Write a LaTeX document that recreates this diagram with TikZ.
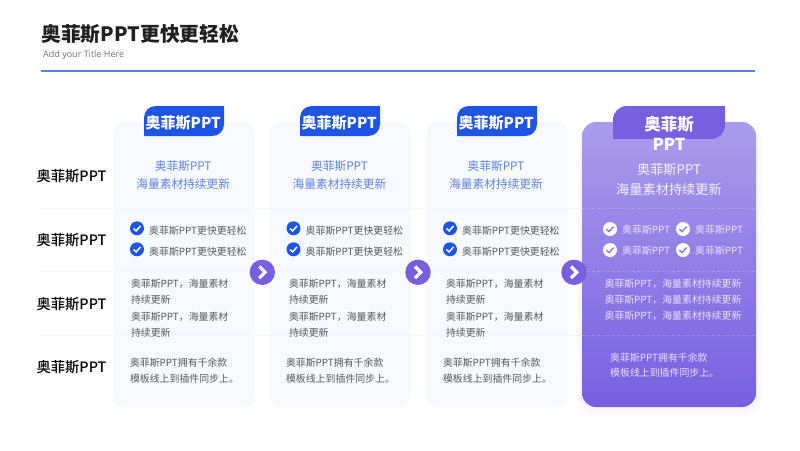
\documentclass[tikz,border=0pt]{standalone}
\usepackage{fontspec}
\setmainfont{Noto Sans CJK SC}
\newfontfamily\latinfont{Open Sans}
\newfontfamily\mediumfont{Noto Sans CJK SC Medium}
\definecolor{cardbg}{HTML}{F6F8FE}
\definecolor{tabblue}{HTML}{1F55E6}
\definecolor{tabviolet}{HTML}{7660E0}
\definecolor{headblue}{HTML}{5F84E2}
\definecolor{ruleblue}{HTML}{5B80E8}
\definecolor{rowline}{HTML}{F3F4F9}
\definecolor{bodygrey}{HTML}{5A5A5A}
\definecolor{softwhite}{HTML}{E6E0FB}
\tikzset{
  rowlabel/.style={anchor=center,font=\fontsize{14.3}{16}\mediumfont,text=black,inner sep=0pt},
  tabtext/.style={anchor=center,font=\fontsize{15}{18}\selectfont\bfseries,text=white,inner sep=0pt},
  headtext/.style={anchor=center,align=center,font=\fontsize{11.7}{17.8}\selectfont,text=headblue,inner sep=0pt},
  bodytext/.style={anchor=west,align=left,font=\fontsize{9.9}{16.3}\selectfont,text=bodygrey,inner sep=0pt},
  softtext/.style={anchor=west,align=left,font=\fontsize{9.9}{16.3}\selectfont,text=softwhite,inner sep=0pt},
}
\begin{document}
\begin{tikzpicture}[x=1pt,y=-1pt]
  \useasboundingbox (0,0) rectangle (800,450);
  % title
  \fill[ruleblue] (41,70.4) rectangle (755,71.8);
  \node[anchor=west,inner sep=0pt,font=\fontsize{19.8}{24}\selectfont\bfseries,text=black!88] (title) at (41,34) {奥菲斯PPT更快更轻松};
  \node[anchor=west,inner sep=0pt,font=\latinfont\fontsize{9}{11}\selectfont,text=black!55] (subtitle) at (43,55) {Add your Title Here};
  % row lines
  \foreach \y in {208.5,271,335}
    \fill[rowline] (40,\y-0.4) rectangle (582,\y+0.4);
  % cards
  \foreach \x in {113,269,426}
    \fill[cardbg,opacity=0.9,rounded corners=11pt] (\x,122) rectangle ++(142,285);
  \foreach \d in {1,2,3,4,5,6}
    \fill[tabviolet,opacity=0.012,rounded corners=14pt] (582-\d,126) rectangle (756+\d,407+1.6*\d);
  \shade[top color=tabviolet!62,bottom color=tabviolet,rounded corners=14pt] (582,122) rectangle (756,407);
  \foreach \y in {208.5,271,335}
    \draw[white,opacity=0.2,line width=0.5pt,densely dashed] (582,\y) -- (756,\y);
  % tabs
  \foreach \x in {144,300,457}
    \fill[tabblue] (\x,136) -- (\x,118) .. controls (\x,111) and (\x+5,106) .. (\x+12,106) -- (\x+80,106) -- (\x+80,124) .. controls (\x+80,131) and (\x+75,136) .. (\x+68,136) -- cycle;
  \fill[tabviolet] (613,139) -- (613,120) .. controls (613,112) and (619,106) .. (627,106) -- (725,106) -- (725,125) .. controls (725,133) and (719,139) .. (711,139) -- cycle;
  % row labels
  \node[rowlabel] (rowa) at (71.5,176.5) {奥菲斯PPT};
  \node[rowlabel] (rowb) at (71.5,240.5) {奥菲斯PPT};
  \node[rowlabel] (rowc) at (71.5,303.8) {奥菲斯PPT};
  \node[rowlabel] (rowd) at (71.5,367.2) {奥菲斯PPT};
  % blue columns
  \foreach \n/\c/\t/\k/\b/\e in {a/183.2/183.2/137/130.8/129.8,b/339.5/339.2/293.5/288.8/285.8,c/496/496.2/450/445.8/442.8} {
    \node[tabtext] (tab\n) at (\t,122.5) {奥菲斯PPT};
    \node[headtext] (head\n) at (\c,175) {奥菲斯PPT\\海量素材持续更新};
    \foreach \y/\m in {228.3/a,249.3/b} {
      \fill[tabblue] (\k,\y) circle (7);
      \draw[white,line width=1.5pt] (\k-3.5,\y+0.2) -- (\k-0.9,\y+2.6) -- (\k+3.6,\y-2.4);
      \node[bodytext] (check\n\m) at (\k+12,\y+2.3) {奥菲斯PPT更快更轻松};
    }
    \node[bodytext] (body\n) at (\b,308.3) {奥菲斯PPT，海量素材\\持续更新\\奥菲斯PPT，海量素材\\持续更新};
    \node[bodytext] (foot\n) at (\e,370.8) {奥菲斯PPT拥有千余款\\模板线上到插件同步上。};
  }
  % violet column
  \node[anchor=center,align=center,inner sep=0pt,font=\fontsize{16.5}{19.4}\selectfont\bfseries,text=white] (tabd) at (669,133.5) {奥菲斯\\PPT};
  \node[anchor=center,align=center,inner sep=0pt,font=\fontsize{13.2}{20}\selectfont,text=white!92!tabviolet] (headd) at (669,179) {奥菲斯PPT\\海量素材持续更新};
  \foreach \k in {610,683}
    \foreach \y in {229,250} {
      \fill[white] (\k,\y) circle (7);
      \draw[tabviolet!85,line width=1.4pt] (\k-3.5,\y+0.2) -- (\k-0.9,\y+2.6) -- (\k+3.6,\y-2.4);
      \node[softtext] (check\k\y) at (\k+12,\y+1.2) {奥菲斯PPT};
    }
  \node[softtext] (bodyd) at (604.3,300) {奥菲斯PPT，海量素材持续更新\\奥菲斯PPT，海量素材持续更新\\奥菲斯PPT，海量素材持续更新};
  \node[softtext,font=\fontsize{9.9}{15}\selectfont] (footd) at (610,365.5) {奥菲斯PPT拥有千余款\\模板线上到插件同步上。};
  % arrows
  \foreach \x in {262.3,418,574} {
    \fill[tabviolet] (\x,272.3) circle (12.7);
    \draw[white,line width=3.2pt] (\x-3,266.5) -- (\x+2.8,272.3) -- (\x-3,278.1);
  }
\end{tikzpicture}
\end{document}
